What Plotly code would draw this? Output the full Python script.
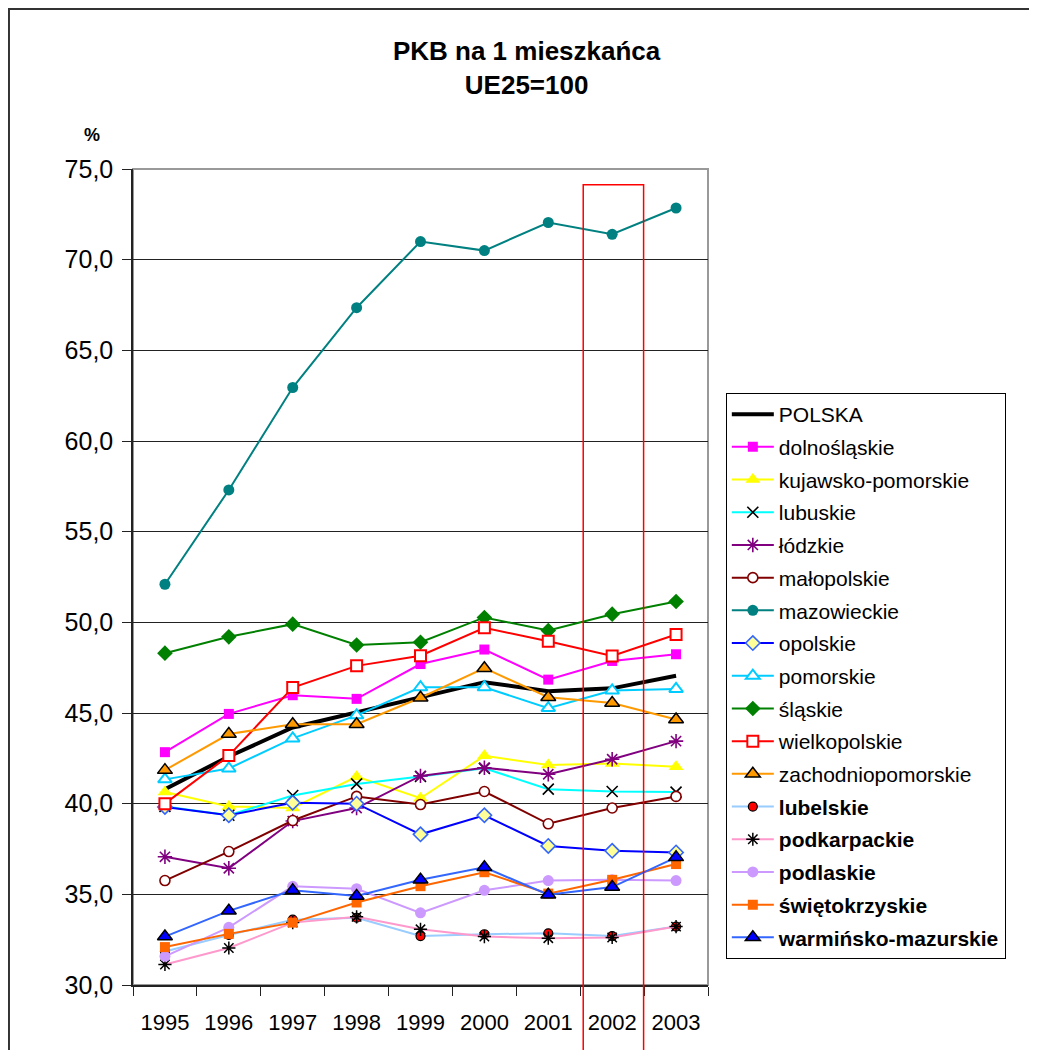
import plotly.graph_objects as go

years = ["1995", "1996", "1997", "1998", "1999", "2000", "2001", "2002", "2003"]

polska = [40.8, 42.6, 44.2, 45.05, 45.9, 46.7, 46.2, 46.36, 47.05]
dolnoslaskie = [42.84, 44.95, 45.98, 45.78, 47.7, 48.5, 46.84, 47.87, 48.24]
kujawsko_pomorskie = [40.64, 39.85, 39.76, 41.49, 40.3, 42.64, 42.13, 42.22, 42.04]
lubuskie = [39.85, 39.36, 40.45, 41.09, 41.5, 41.95, 40.8, 40.67, 40.64]
lodzkie = [37.07, 36.44, 39.04, 39.76, 41.53, 41.98, 41.62, 42.45, 43.45]
malopolskie = [35.76, 37.36, 39.07, 40.4, 39.95, 40.67, 38.89, 39.76, 40.4]
mazowieckie = [52.1, 57.3, 62.95, 67.35, 71.0, 70.5, 72.05, 71.4, 72.85]
opolskie = [39.82, 39.36, 40.05, 40.0, 38.31, 39.36, 37.67, 37.4, 37.31]
pomorskie = [41.34, 41.94, 43.6, 44.87, 46.42, 46.42, 45.27, 46.24, 46.33]
slaskie = [48.3, 49.2, 49.9, 48.75, 48.9, 50.27, 49.55, 50.45, 51.15]
wielkopolskie = [40.0, 42.65, 46.4, 47.6, 48.16, 49.7, 48.96, 48.15, 49.33]
zachodniopomorskie = [41.85, 43.84, 44.38, 44.38, 45.84, 47.47, 45.87, 45.55, 44.64]
lubelskie = [31.85, 32.76, 33.6, 33.71, 32.7, 32.8, 32.85, 32.7, 33.22]
podkarpackie = [31.13, 32.04, 33.44, 33.76, 33.07, 32.67, 32.58, 32.62, 33.22]
podlaskie = [31.58, 33.18, 35.44, 35.31, 33.98, 35.22, 35.76, 35.8, 35.76]
swietokrzyskie = [32.09, 32.82, 33.44, 34.55, 35.45, 36.22, 35.04, 35.8, 36.67]
warminsko_mazurskie = [32.67, 34.09, 35.22, 34.91, 35.8, 36.49, 34.98, 35.4, 37.04]

highlight_year = "2002"

FONT = "Liberation Sans, Arial, sans-serif"

series = [
    ("POLSKA", polska, dict(color="#000000", width=4), None),
    ("dolnośląskie", dolnoslaskie, dict(color="#FF00FF", width=2),
     dict(symbol="square", size=10, color="#FF00FF")),
    ("kujawsko-pomorskie", kujawsko_pomorskie, dict(color="#FFFF00", width=2),
     dict(symbol="triangle-up", size=13, color="#FFFF00")),
    ("lubuskie", lubuskie, dict(color="#00FFFF", width=2),
     dict(symbol="x-thin", size=11, color="#000000", line=dict(color="#000000", width=1.6))),
    ("łódzkie", lodzkie, dict(color="#800080", width=2),
     dict(symbol="asterisk", size=12, color="#800080", line=dict(color="#800080", width=1.6))),
    ("małopolskie", malopolskie, dict(color="#800000", width=2),
     dict(symbol="circle", size=10, color="#FFFFFF", line=dict(color="#800000", width=1.6))),
    ("mazowieckie", mazowieckie, dict(color="#008080", width=2),
     dict(symbol="circle", size=11, color="#008080")),
    ("opolskie", opolskie, dict(color="#0000FF", width=2),
     dict(symbol="diamond", size=11, color="#FFFF99", line=dict(color="#3366FF", width=1.6))),
    ("pomorskie", pomorskie, dict(color="#00CCFF", width=2),
     dict(symbol="triangle-up", size=12, color="#FFFFFF", line=dict(color="#00CCFF", width=2))),
    ("śląskie", slaskie, dict(color="#008000", width=2),
     dict(symbol="diamond", size=12, color="#008000")),
    ("wielkopolskie", wielkopolskie, dict(color="#FF0000", width=2),
     dict(symbol="square", size=11, color="#FFFFFF", line=dict(color="#FF0000", width=2))),
    ("zachodniopomorskie", zachodniopomorskie, dict(color="#FF9900", width=2),
     dict(symbol="triangle-up", size=13, color="#FF9900", line=dict(color="#000000", width=1.5))),
    ("<b>lubelskie</b>", lubelskie, dict(color="#99CCFF", width=2),
     dict(symbol="circle", size=9, color="#FF0000", line=dict(color="#000000", width=1.2))),
    ("<b>podkarpackie</b>", podkarpackie, dict(color="#FF99CC", width=2),
     dict(symbol="asterisk", size=11, color="#000000", line=dict(color="#000000", width=1.5))),
    ("<b>podlaskie</b>", podlaskie, dict(color="#CC99FF", width=2),
     dict(symbol="circle", size=11, color="#CC99FF")),
    ("<b>świętokrzyskie</b>", swietokrzyskie, dict(color="#FF6600", width=2),
     dict(symbol="square", size=10, color="#FF6600")),
    ("<b>warmińsko-mazurskie</b>", warminsko_mazurskie, dict(color="#3366FF", width=2),
     dict(symbol="triangle-up", size=13, color="#0000FF", line=dict(color="#000000", width=1.5))),
]

fig = go.Figure()
for i, (name, vals, line, marker) in enumerate(series):
    kw = dict(x=years, y=vals, name=name, line=line, legendgroup=f"g{i}")
    if marker is None:
        kw["mode"] = "lines"
    else:
        kw["mode"] = "lines+markers"
        kw["marker"] = marker
    fig.add_trace(go.Scatter(**kw))

hi = years.index(highlight_year)

fig.update_layout(
    width=1029, height=1042,
    margin=dict(l=125, r=329, t=161, b=65),
    paper_bgcolor="white", plot_bgcolor="white",
    separators=", ",
    font=dict(family=FONT, color="#000000"),
    title=dict(text="<b>PKB na 1 mieszkańca<br>UE25=100</b>",
               x=0.504, xanchor="center", y=0.95, yanchor="top",
               font=dict(size=26, family=FONT)),
    showlegend=True,
    legend=dict(x=1.031, xanchor="left", y=0.7255, yanchor="top",
                bordercolor="#000000", borderwidth=1, bgcolor="white",
                font=dict(size=21, family=FONT), tracegroupgap=2.4,
                itemwidth=42),
    xaxis=dict(type="category", range=[-0.5, len(years) - 0.5],
               tickson="boundaries", ticks="outside", ticklen=9,
               tickcolor="#222222", showline=True, linecolor="#222222", linewidth=1.5,
               showgrid=False, tickfont=dict(size=22, family=FONT),
               ticklabelstandoff=17),
    yaxis=dict(range=[30, 75], dtick=5, tickformat=".1f",
               ticks="outside", ticklen=9, tickcolor="#222222",
               showline=True, linecolor="#222222", linewidth=1.5,
               showgrid=True, gridcolor="#222222", gridwidth=1,
               zeroline=False, tickfont=dict(size=25, family=FONT),
               ticklabelstandoff=4),
    annotations=[dict(text="<b>%</b>", xref="paper", yref="paper",
                      x=-0.0713, y=1.042, xanchor="center", yanchor="middle",
                      showarrow=False, font=dict(size=18, family=FONT))],
    shapes=[
        # plot area frame (grey, top/right)
        dict(type="rect", xref="paper", yref="paper", x0=0, x1=1, y0=0, y1=1,
             line=dict(color="#999999", width=2), layer="below"),
        # outer chart frame
        dict(type="rect", xref="paper", yref="paper", x0=-0.2157, x1=1.6, y0=-0.1, y1=1.196,
             line=dict(color="#333333", width=2)),
        # highlight rectangle around the selected year
        dict(type="rect", xref="x", yref="paper", x0=hi - 0.453, x1=hi + 0.492,
             y0=-0.12, y1=0.9806, line=dict(color="#FF0000", width=1.5)),
    ],
)

fig.write_html("out.html")
